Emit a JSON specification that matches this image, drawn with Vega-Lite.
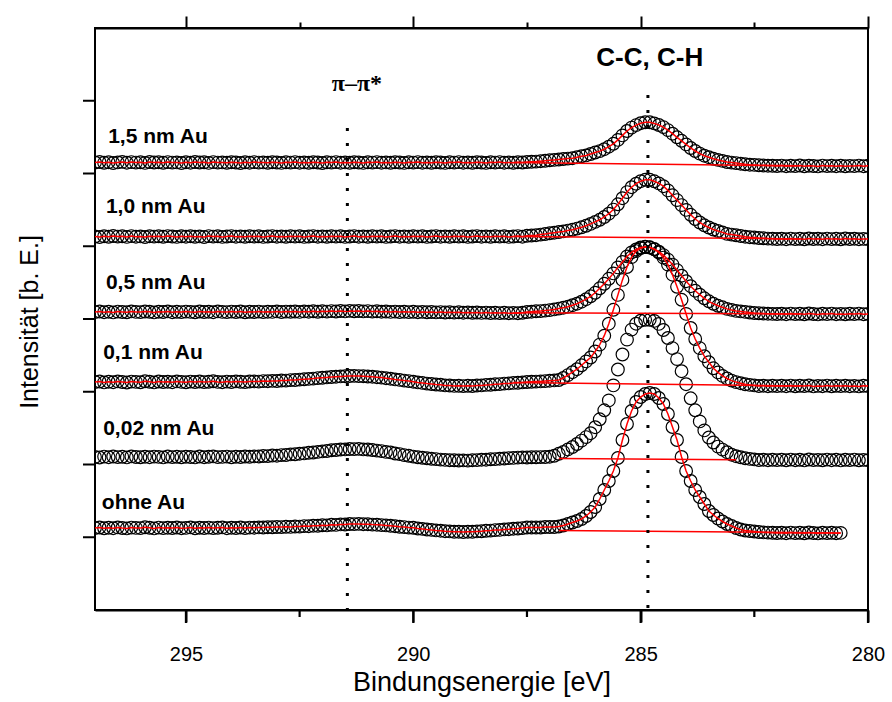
{
"$schema": "https://vega.github.io/schema/vega-lite/v6.json",
"width": 773, "height": 582,
"autosize": "none",
"padding": {"left": 95, "top": 28, "right": 24, "bottom": 92},
"background": "white",
"config": {"view": {"stroke": "black", "strokeWidth": 2}, "font": "Liberation Sans", "axis": {"grid": false}},
"resolve": {"axis": {"x": "independent"}},
"datasets": {
"spectra": [
{"e":297.0,"s15":447.5,"s10":373.5,"s05":298.0,"s01":228.0,"s002":153.0,"s0":82.0},
{"e":296.9,"s15":448.0,"s10":373.0,"s05":298.5,"s01":228.5,"s002":152.5,"s0":82.5},
{"e":296.8,"s15":447.2,"s10":373.8,"s05":297.8,"s01":227.6,"s002":153.4,"s0":81.7},
{"e":296.7,"s15":447.8,"s10":373.2,"s05":298.3,"s01":228.3,"s002":152.8,"s0":82.3},
{"e":296.6,"s15":447.0,"s10":374.0,"s05":297.6,"s01":227.8,"s002":153.5,"s0":81.8},
{"e":296.5,"s15":447.6,"s10":373.4,"s05":298.4,"s01":228.6,"s002":152.9,"s0":82.6},
{"e":296.4,"s15":448.1,"s10":373.7,"s05":298.0,"s01":228.0,"s002":153.2,"s0":82.0},
{"e":296.3,"s15":447.3,"s10":373.1,"s05":297.7,"s01":227.5,"s002":152.6,"s0":81.6},
{"e":296.2,"s15":447.9,"s10":373.9,"s05":298.6,"s01":228.4,"s002":153.6,"s0":82.4},
{"e":296.1,"s15":447.4,"s10":373.3,"s05":298.1,"s01":228.1,"s002":153.0,"s0":82.1},
{"e":296.0,"s15":447.7,"s10":373.6,"s05":297.9,"s01":227.7,"s002":152.7,"s0":81.9},
{"e":295.9,"s15":447.1,"s10":373.0,"s05":298.5,"s01":228.7,"s002":153.3,"s0":82.7},
{"e":295.8,"s15":448.0,"s10":373.8,"s05":298.2,"s01":228.2,"s002":152.8,"s0":82.2},
{"e":295.7,"s15":447.5,"s10":373.4,"s05":297.6,"s01":227.6,"s002":153.4,"s0":81.6},
{"e":295.6,"s15":447.8,"s10":373.7,"s05":298.3,"s01":228.5,"s002":153.1,"s0":82.4},
{"e":295.5,"s15":447.2,"s10":373.2,"s05":298.0,"s01":228.0,"s002":152.6,"s0":81.9},
{"e":295.4,"s15":447.9,"s10":373.9,"s05":298.6,"s01":228.3,"s002":153.5,"s0":82.3},
{"e":295.3,"s15":447.4,"s10":373.5,"s05":297.8,"s01":227.8,"s002":152.9,"s0":82.0},
{"e":295.2,"s15":447.6,"s10":373.1,"s05":298.2,"s01":228.6,"s002":153.2,"s0":82.5},
{"e":295.1,"s15":447.0,"s10":373.7,"s05":297.9,"s01":228.1,"s002":152.7,"s0":81.8},
{"e":295.0,"s15":447.8,"s10":373.3,"s05":298.4,"s01":227.7,"s002":153.3,"s0":82.1},
{"e":294.9,"s15":447.3,"s10":373.8,"s05":298.1,"s01":228.4,"s002":153.0,"s0":82.6},
{"e":294.8,"s15":448.0,"s10":373.2,"s05":297.7,"s01":228.0,"s002":152.6,"s0":81.7},
{"e":294.7,"s15":447.5,"s10":373.6,"s05":298.5,"s01":228.5,"s002":153.5,"s0":82.3},
{"e":294.6,"s15":447.7,"s10":373.0,"s05":298.0,"s01":227.9,"s002":152.8,"s0":82.0},
{"e":294.5,"s15":447.1,"s10":373.9,"s05":298.3,"s01":228.2,"s002":153.2,"s0":82.4},
{"e":294.4,"s15":447.9,"s10":373.4,"s05":297.8,"s01":228.7,"s002":153.6,"s0":81.9},
{"e":294.3,"s15":447.4,"s10":373.7,"s05":298.6,"s01":228.1,"s002":152.9,"s0":82.2},
{"e":294.2,"s15":447.6,"s10":373.1,"s05":298.1,"s01":227.8,"s002":153.1,"s0":82.6},
{"e":294.1,"s15":447.2,"s10":373.5,"s05":297.9,"s01":228.4,"s002":153.4,"s0":81.8},
{"e":294.0,"s15":447.8,"s10":373.9,"s05":298.4,"s01":228.0,"s002":152.7,"s0":82.3},
{"e":293.9,"s15":447.5,"s10":373.3,"s05":298.0,"s01":228.6,"s002":153.3,"s0":82.0},
{"e":293.8,"s15":447.0,"s10":373.6,"s05":298.5,"s01":228.2,"s002":153.0,"s0":82.5},
{"e":293.7,"s15":447.7,"s10":373.2,"s05":297.7,"s01":227.9,"s002":153.5,"s0":81.9},
{"e":293.6,"s15":447.3,"s10":373.8,"s05":298.2,"s01":228.5,"s002":153.2,"s0":82.4},
{"e":293.5,"s15":447.9,"s10":373.4,"s05":298.0,"s01":228.6,"s002":153.6,"s0":82.3},
{"e":293.4,"s15":447.4,"s10":373.7,"s05":298.4,"s01":228.4,"s002":153.5,"s0":82.6},
{"e":293.3,"s15":447.6,"s10":373.1,"s05":297.9,"s01":228.9,"s002":154.0,"s0":82.5},
{"e":293.2,"s15":447.2,"s10":373.5,"s05":298.3,"s01":228.8,"s002":153.9,"s0":82.8},
{"e":293.1,"s15":447.8,"s10":373.9,"s05":298.1,"s01":229.1,"s002":154.5,"s0":82.7},
{"e":293.0,"s15":447.5,"s10":373.3,"s05":298.6,"s01":229.0,"s002":154.3,"s0":83.0},
{"e":292.9,"s15":447.1,"s10":373.6,"s05":298.0,"s01":229.5,"s002":154.9,"s0":82.9},
{"e":292.8,"s15":447.7,"s10":373.2,"s05":298.4,"s01":229.4,"s002":155.0,"s0":83.2},
{"e":292.7,"s15":447.4,"s10":373.8,"s05":298.2,"s01":229.9,"s002":155.6,"s0":83.1},
{"e":292.6,"s15":447.9,"s10":373.4,"s05":298.5,"s01":230.0,"s002":155.7,"s0":83.5},
{"e":292.5,"s15":447.3,"s10":373.7,"s05":298.1,"s01":230.4,"s002":156.3,"s0":83.4},
{"e":292.4,"s15":447.6,"s10":373.1,"s05":298.6,"s01":230.7,"s002":156.6,"s0":83.9},
{"e":292.3,"s15":447.2,"s10":373.5,"s05":298.3,"s01":231.1,"s002":157.2,"s0":83.8},
{"e":292.2,"s15":447.8,"s10":373.9,"s05":298.7,"s01":231.4,"s002":157.5,"s0":84.3},
{"e":292.1,"s15":447.5,"s10":373.3,"s05":298.2,"s01":231.9,"s002":158.1,"s0":84.2},
{"e":292.0,"s15":447.0,"s10":373.6,"s05":298.8,"s01":232.2,"s002":158.6,"s0":84.7},
{"e":291.9,"s15":447.7,"s10":373.2,"s05":298.4,"s01":232.6,"s002":159.0,"s0":84.6},
{"e":291.8,"s15":447.4,"s10":373.8,"s05":298.9,"s01":233.0,"s002":159.7,"s0":85.2},
{"e":291.7,"s15":447.9,"s10":373.4,"s05":298.5,"s01":233.3,"s002":160.0,"s0":85.1},
{"e":291.6,"s15":447.3,"s10":373.7,"s05":299.0,"s01":233.6,"s002":160.5,"s0":85.6},
{"e":291.5,"s15":447.6,"s10":373.1,"s05":298.6,"s01":233.8,"s002":160.6,"s0":85.5},
{"e":291.4,"s15":447.2,"s10":373.5,"s05":299.1,"s01":234.0,"s002":161.0,"s0":86.0},
{"e":291.3,"s15":447.8,"s10":373.9,"s05":298.7,"s01":234.1,"s002":160.9,"s0":85.9},
{"e":291.2,"s15":447.5,"s10":373.3,"s05":299.0,"s01":233.9,"s002":161.1,"s0":86.1},
{"e":291.1,"s15":447.1,"s10":373.6,"s05":298.6,"s01":233.8,"s002":160.6,"s0":85.8},
{"e":291.0,"s15":447.7,"s10":373.2,"s05":298.9,"s01":233.5,"s002":160.5,"s0":85.8},
{"e":290.9,"s15":447.4,"s10":373.8,"s05":298.4,"s01":233.3,"s002":160.0,"s0":85.4},
{"e":290.8,"s15":447.9,"s10":373.4,"s05":298.7,"s01":232.8,"s002":159.4,"s0":85.3},
{"e":290.7,"s15":447.3,"s10":373.7,"s05":298.3,"s01":232.4,"s002":158.9,"s0":84.9},
{"e":290.6,"s15":447.6,"s10":373.1,"s05":298.5,"s01":231.8,"s002":158.1,"s0":84.6},
{"e":290.5,"s15":447.2,"s10":373.5,"s05":298.1,"s01":231.3,"s002":157.6,"s0":84.2},
{"e":290.4,"s15":447.8,"s10":373.9,"s05":298.4,"s01":230.6,"s002":156.5,"s0":83.8},
{"e":290.3,"s15":447.5,"s10":373.3,"s05":298.0,"s01":230.1,"s002":155.9,"s0":83.2},
{"e":290.2,"s15":447.1,"s10":373.6,"s05":298.3,"s01":229.4,"s002":154.9,"s0":82.9},
{"e":290.1,"s15":447.7,"s10":373.2,"s05":297.9,"s01":228.9,"s002":154.2,"s0":82.4},
{"e":290.0,"s15":447.4,"s10":373.8,"s05":298.2,"s01":228.3,"s002":153.4,"s0":82.2},
{"e":289.9,"s15":447.9,"s10":373.4,"s05":297.8,"s01":227.6,"s002":152.7,"s0":81.5},
{"e":289.8,"s15":447.3,"s10":373.7,"s05":298.1,"s01":227.1,"s002":152.2,"s0":81.1},
{"e":289.7,"s15":447.6,"s10":373.1,"s05":297.7,"s01":226.4,"s002":151.7,"s0":80.5},
{"e":289.6,"s15":447.2,"s10":373.5,"s05":298.0,"s01":226.0,"s002":151.2,"s0":80.1},
{"e":289.5,"s15":447.8,"s10":373.9,"s05":297.6,"s01":225.5,"s002":150.9,"s0":79.6},
{"e":289.4,"s15":447.5,"s10":373.3,"s05":297.9,"s01":225.2,"s002":150.4,"s0":79.3},
{"e":289.3,"s15":447.1,"s10":373.6,"s05":297.5,"s01":224.6,"s002":150.1,"s0":78.8},
{"e":289.2,"s15":447.7,"s10":373.2,"s05":297.8,"s01":224.5,"s002":149.8,"s0":78.6},
{"e":289.1,"s15":447.4,"s10":373.8,"s05":297.4,"s01":224.1,"s002":149.7,"s0":78.2},
{"e":289.0,"s15":447.9,"s10":373.4,"s05":297.7,"s01":224.2,"s002":149.5,"s0":78.3},
{"e":288.9,"s15":447.3,"s10":373.7,"s05":297.3,"s01":223.9,"s002":149.6,"s0":78.0},
{"e":288.8,"s15":447.6,"s10":373.1,"s05":297.6,"s01":224.2,"s002":149.4,"s0":78.3},
{"e":288.7,"s15":447.2,"s10":373.5,"s05":297.2,"s01":224.0,"s002":149.8,"s0":78.2},
{"e":288.6,"s15":447.8,"s10":373.9,"s05":297.5,"s01":224.5,"s002":149.9,"s0":78.6},
{"e":288.5,"s15":447.5,"s10":373.3,"s05":297.1,"s01":224.6,"s002":150.3,"s0":78.7},
{"e":288.4,"s15":447.1,"s10":373.6,"s05":297.4,"s01":225.1,"s002":150.3,"s0":79.2},
{"e":288.3,"s15":447.7,"s10":373.2,"s05":297.0,"s01":225.2,"s002":150.7,"s0":79.4},
{"e":288.2,"s15":447.4,"s10":373.8,"s05":297.3,"s01":225.7,"s002":150.9,"s0":79.9},
{"e":288.1,"s15":447.9,"s10":373.4,"s05":296.9,"s01":225.9,"s002":151.3,"s0":80.1},
{"e":288.0,"s15":447.3,"s10":373.7,"s05":297.2,"s01":226.4,"s002":151.5,"s0":80.6},
{"e":287.9,"s15":447.6,"s10":373.1,"s05":296.8,"s01":226.6,"s002":151.9,"s0":80.8},
{"e":287.8,"s15":447.2,"s10":373.5,"s05":297.1,"s01":227.1,"s002":152.1,"s0":81.3},
{"e":287.7,"s15":447.8,"s10":373.9,"s05":296.8,"s01":227.2,"s002":152.4,"s0":81.5},
{"e":287.6,"s15":447.5,"s10":373.3,"s05":297.2,"s01":227.6,"s002":152.6,"s0":81.9},
{"e":287.5,"s15":448.0,"s10":374.2,"s05":298.0,"s01":228.0,"s002":152.5,"s0":82.5},
{"e":287.4,"s15":448.2,"s10":374.5,"s05":298.3,"s01":228.2,"s002":152.7,"s0":82.5},
{"e":287.3,"s15":448.4,"s10":374.8,"s05":298.7,"s01":228.4,"s002":152.7,"s0":82.5},
{"e":287.2,"s15":448.8,"s10":375.4,"s05":298.9,"s01":228.6,"s002":152.9,"s0":82.5},
{"e":287.1,"s15":449.2,"s10":376.0,"s05":299.4,"s01":228.9,"s002":153.0,"s0":83.0},
{"e":287.0,"s15":449.7,"s10":376.7,"s05":299.9,"s01":229.3,"s002":153.3,"s0":83.0},
{"e":286.9,"s15":450.1,"s10":377.3,"s05":300.6,"s01":229.6,"s002":154.2,"s0":83.0},
{"e":286.8,"s15":450.5,"s10":378.0,"s05":301.4,"s01":230.0,"s002":156.2,"s0":83.5},
{"e":286.7,"s15":451.0,"s10":378.6,"s05":302.3,"s01":232.0,"s002":158.1,"s0":84.5},
{"e":286.6,"s15":451.4,"s10":379.4,"s05":303.3,"s01":234.9,"s002":160.6,"s0":86.0},
{"e":286.5,"s15":451.8,"s10":380.2,"s05":304.8,"s01":237.8,"s002":163.0,"s0":87.5},
{"e":286.4,"s15":452.8,"s10":381.4,"s05":306.3,"s01":240.8,"s002":166.0,"s0":89.0},
{"e":286.3,"s15":453.7,"s10":382.7,"s05":308.3,"s01":244.7,"s002":169.4,"s0":91.0},
{"e":286.2,"s15":454.6,"s10":384.2,"s05":310.8,"s01":248.6,"s002":172.9,"s0":94.0},
{"e":286.1,"s15":456.0,"s10":386.1,"s05":313.7,"s01":252.5,"s002":176.8,"s0":98.0},
{"e":286.0,"s15":457.5,"s10":388.1,"s05":317.2,"s01":258.5,"s002":182.8,"s0":103.0},
{"e":285.9,"s15":458.9,"s10":390.2,"s05":321.7,"s01":265.4,"s002":190.7,"s0":111.0},
{"e":285.8,"s15":460.8,"s10":393.0,"s05":326.2,"s01":274.3,"s002":199.7,"s0":120.0},
{"e":285.7,"s15":463.3,"s10":396.3,"s05":331.2,"s01":286.3,"s002":209.6,"s0":129.0},
{"e":285.6,"s15":466.2,"s10":400.4,"s05":336.6,"s01":300.2,"s002":224.6,"s0":139.0},
{"e":285.5,"s15":470.1,"s10":405.7,"s05":342.6,"s01":315.1,"s002":240.5,"s0":152.0},
{"e":285.4,"s15":474.6,"s10":411.8,"s05":348.1,"s01":330.1,"s002":255.5,"s0":170.0},
{"e":285.3,"s15":479.0,"s10":417.9,"s05":353.6,"s01":343.0,"s002":270.4,"s0":186.0},
{"e":285.2,"s15":482.4,"s10":422.8,"s05":357.6,"s01":352.9,"s002":280.4,"s0":199.0},
{"e":285.1,"s15":484.9,"s10":426.3,"s05":360.5,"s01":358.9,"s002":286.3,"s0":208.0},
{"e":285.0,"s15":486.8,"s10":428.8,"s05":362.5,"s01":361.8,"s002":289.3,"s0":213.0},
{"e":284.9,"s15":487.7,"s10":430.2,"s05":363.0,"s01":363.2,"s002":290.2,"s0":216.0},
{"e":284.8,"s15":487.7,"s10":430.2,"s05":362.5,"s01":362.7,"s002":290.2,"s0":217.0},
{"e":284.7,"s15":486.6,"s10":428.7,"s05":361.0,"s01":360.6,"s002":289.1,"s0":216.0},
{"e":284.6,"s15":485.0,"s10":426.6,"s05":358.4,"s01":357.5,"s002":286.1,"s0":212.0},
{"e":284.5,"s15":482.9,"s10":423.8,"s05":354.9,"s01":352.4,"s002":280.0,"s0":206.0},
{"e":284.4,"s15":479.9,"s10":419.6,"s05":350.4,"s01":345.4,"s002":272.0,"s0":196.0},
{"e":284.3,"s15":476.3,"s10":414.7,"s05":345.4,"s01":335.3,"s002":261.9,"s0":183.0},
{"e":284.2,"s15":472.7,"s10":409.9,"s05":339.9,"s01":323.2,"s002":250.9,"s0":170.0},
{"e":284.1,"s15":469.2,"s10":404.9,"s05":334.3,"s01":310.2,"s002":238.8,"s0":153.0},
{"e":284.0,"s15":465.6,"s10":400.1,"s05":328.8,"s01":296.1,"s002":225.8,"s0":139.0},
{"e":283.9,"s15":462.0,"s10":395.2,"s05":323.8,"s01":282.0,"s002":211.7,"s0":129.0},
{"e":283.8,"s15":459.0,"s10":391.0,"s05":319.3,"s01":271.0,"s002":199.7,"s0":120.0},
{"e":283.7,"s15":456.4,"s10":387.5,"s05":315.3,"s01":261.9,"s002":188.6,"s0":113.0},
{"e":283.6,"s15":454.3,"s10":384.7,"s05":311.7,"s01":253.8,"s002":179.6,"s0":106.0},
{"e":283.5,"s15":452.8,"s10":382.5,"s05":308.7,"s01":247.8,"s002":172.5,"s0":99.0},
{"e":283.4,"s15":451.2,"s10":380.5,"s05":306.2,"s01":241.7,"s002":167.5,"s0":95.0},
{"e":283.3,"s15":450.1,"s10":379.0,"s05":304.2,"s01":237.6,"s002":163.4,"s0":91.5},
{"e":283.2,"s15":449.1,"s10":377.6,"s05":302.7,"s01":234.1,"s002":160.4,"s0":88.5},
{"e":283.1,"s15":448.0,"s10":376.1,"s05":301.1,"s01":231.5,"s002":157.8,"s0":86.0},
{"e":283.0,"s15":447.4,"s10":375.4,"s05":300.1,"s01":229.4,"s002":155.3,"s0":84.0},
{"e":282.9,"s15":446.9,"s10":374.7,"s05":299.1,"s01":227.9,"s002":153.8,"s0":82.0},
{"e":282.8,"s15":446.3,"s10":374.0,"s05":298.6,"s01":226.8,"s002":152.7,"s0":80.5},
{"e":282.7,"s15":445.7,"s10":373.3,"s05":298.1,"s01":225.7,"s002":151.7,"s0":79.5},
{"e":282.6,"s15":445.3,"s10":372.8,"s05":297.5,"s01":225.1,"s002":151.1,"s0":79.0},
{"e":282.5,"s15":445.1,"s10":372.5,"s05":297.0,"s01":224.6,"s002":150.6,"s0":78.5},
{"e":282.4,"s15":444.7,"s10":372.0,"s05":296.7,"s01":224.0,"s002":150.0,"s0":78.0},
{"e":282.3,"s15":444.5,"s10":371.7,"s05":296.5,"s01":224.3,"s002":150.3,"s0":77.6},
{"e":282.2,"s15":444.3,"s10":371.4,"s05":296.3,"s01":223.8,"s002":149.8,"s0":77.4},
{"e":282.1,"s15":444.2,"s10":371.3,"s05":296.1,"s01":224.2,"s002":150.2,"s0":77.2},
{"e":282.0,"s15":444.0,"s10":371.0,"s05":296.0,"s01":223.9,"s002":149.9,"s0":77.0},
{"e":281.9,"s15":444.4,"s10":371.3,"s05":296.3,"s01":224.3,"s002":150.3,"s0":77.3},
{"e":281.8,"s15":443.8,"s10":370.8,"s05":295.8,"s01":223.8,"s002":149.7,"s0":76.8},
{"e":281.7,"s15":444.2,"s10":371.4,"s05":296.4,"s01":224.4,"s002":150.4,"s0":77.4},
{"e":281.6,"s15":443.9,"s10":370.9,"s05":295.9,"s01":223.7,"s002":149.8,"s0":76.9},
{"e":281.5,"s15":444.5,"s10":371.2,"s05":296.2,"s01":224.2,"s002":150.2,"s0":77.2},
{"e":281.4,"s15":443.7,"s10":370.7,"s05":295.7,"s01":223.9,"s002":149.6,"s0":76.7},
{"e":281.3,"s15":444.3,"s10":371.5,"s05":296.5,"s01":224.5,"s002":150.5,"s0":77.5},
{"e":281.2,"s15":444.0,"s10":371.0,"s05":296.0,"s01":223.6,"s002":149.9,"s0":77.0},
{"e":281.1,"s15":443.6,"s10":371.3,"s05":295.6,"s01":224.1,"s002":150.1,"s0":76.6},
{"e":281.0,"s15":444.4,"s10":370.8,"s05":296.3,"s01":223.8,"s002":149.7,"s0":77.3},
{"e":280.9,"s15":443.9,"s10":371.4,"s05":295.9,"s01":224.4,"s002":150.4,"s0":76.9},
{"e":280.8,"s15":444.2,"s10":370.9,"s05":296.4,"s01":223.7,"s002":149.8,"s0":77.2},
{"e":280.7,"s15":443.8,"s10":371.2,"s05":295.8,"s01":224.2,"s002":150.3,"s0":76.8},
{"e":280.6,"s15":444.3,"s10":370.7,"s05":296.1,"s01":223.9,"s002":149.6,"s0":77.1},
{"e":280.5,"s15":443.7,"s10":371.5,"s05":295.7,"s01":224.3,"s002":150.2,"s0":null},
{"e":280.4,"s15":444.1,"s10":371.0,"s05":296.2,"s01":223.8,"s002":149.9,"s0":null},
{"e":280.3,"s15":443.9,"s10":371.3,"s05":295.9,"s01":224.1,"s002":150.4,"s0":null},
{"e":280.2,"s15":444.4,"s10":370.8,"s05":296.4,"s01":223.6,"s002":149.7,"s0":null},
{"e":280.1,"s15":443.8,"s10":371.1,"s05":295.8,"s01":224.2,"s002":150.1,"s0":null},
{"e":280.0,"s15":444.2,"s10":370.9,"s05":296.1,"s01":223.9,"s002":149.8,"s0":null}
],
"baselines": [
{"series":"s15","e":287.8,"v":447.5},{"series":"s15","e":281.5,"v":444.2},
{"series":"s10","e":287.8,"v":373.5},{"series":"s10","e":281.5,"v":371.1},
{"series":"s05","e":287.8,"v":297.3},{"series":"s05","e":281.5,"v":296.0},
{"series":"s01","e":287.8,"v":227.5},{"series":"s01","e":281.5,"v":224.0},
{"series":"s002","e":286.8,"v":151.5},{"series":"s002","e":282.9,"v":150.2},
{"series":"s0","e":286.8,"v":79.5},{"series":"s0","e":280.6,"v":77.0}
],
"markers": [
{"e":291.45,"top":482,"bottom":0},
{"e":284.84,"top":515,"bottom":0}
],
"xticks": [
{"e":295,"v":-13,"v2":0},{"e":290,"v":-13,"v2":0},{"e":285,"v":-13,"v2":0},{"e":280,"v":-13,"v2":0},
{"e":292.5,"v":-7,"v2":0},{"e":287.5,"v":-7,"v2":0},{"e":282.5,"v":-7,"v2":0}
],
"yticks": [
{"e":297,"e2":297.264,"v":72.75},{"e":297,"e2":297.264,"v":145.5},{"e":297,"e2":297.264,"v":218.25},
{"e":297,"e2":297.264,"v":291},{"e":297,"e2":297.264,"v":363.75},{"e":297,"e2":297.264,"v":436.5},
{"e":297,"e2":297.264,"v":509.25}
],
"labels": [
{"label":"1,5 nm Au","e":296.71,"v":473},
{"label":"1,0 nm Au","e":296.76,"v":403},
{"label":"0,5 nm Au","e":296.76,"v":327},
{"label":"0,1 nm Au","e":296.82,"v":257},
{"label":"0,02 nm Au","e":296.82,"v":181},
{"label":"ohne Au","e":296.85,"v":107}
]
},
"layer": [
{
"data": {"name": "spectra"},
"transform": [{"fold": ["s15","s10","s05","s01","s002","s0"], "as": ["series","intensity"]}, {"filter": "datum.intensity != null"}],
"mark": {"type": "point", "shape": "circle", "filled": false, "stroke": "black", "strokeWidth": 1.2, "size": 160, "opacity": 1, "clip": true},
"encoding": {
"x": {"field": "e", "type": "quantitative", "scale": {"domain": [280, 297], "reverse": true, "nice": false, "zero": false}, "axis": null},
"y": {"field": "intensity", "type": "quantitative", "scale": {"domain": [0, 582], "nice": false, "zero": false}, "axis": null},
"detail": {"field": "series"}
}
},
{
"data": {"name": "spectra"},
"transform": [{"fold": ["s15","s10","s05","s01","s002","s0"], "as": ["series","intensity"]}, {"filter": "datum.intensity != null && datum.series != 's002'"}],
"mark": {"type": "line", "color": "#ff0000", "strokeWidth": 1.5, "clip": true},
"encoding": {
"x": {"field": "e", "type": "quantitative", "axis": null},
"y": {"field": "intensity", "type": "quantitative", "axis": null},
"detail": {"field": "series"}
}
},
{
"data": {"name": "baselines"},
"mark": {"type": "line", "color": "#ff0000", "strokeWidth": 1.5},
"encoding": {
"x": {"field": "e", "type": "quantitative",
"axis": {"orient": "top", "values": [295, 290, 285, 280], "labels": false, "domain": true, "domainColor": "black", "domainWidth": 2, "tickSize": 12, "tickWidth": 2, "tickColor": "black", "grid": false, "title": null}},
"y": {"field": "v", "type": "quantitative", "axis": null},
"detail": {"field": "series"}
}
},
{
"data": {"name": "markers"},
"mark": {"type": "rule", "color": "black", "strokeWidth": 3, "strokeDash": [3, 12], "strokeCap": "butt"},
"encoding": {
"x": {"field": "e", "type": "quantitative",
"axis": {"orient": "bottom", "values": [295, 290, 285, 280], "format": "d", "ticks": true, "tickSize": 12, "tickWidth": 2, "tickColor": "black", "domain": true, "domainColor": "black", "domainWidth": 2, "labelFont": "Liberation Sans", "labelFontSize": 20, "labelColor": "black", "labelPadding": 22, "labelFlush": false, "grid": false, "title": "Bindungsenergie [eV]", "titleFont": "Liberation Sans", "titleFontSize": 27, "titleFontWeight": "normal", "titleColor": "black", "titlePadding": 5}},
"y": {"field": "top", "type": "quantitative", "axis": null},
"y2": {"field": "bottom"}
}
},
{
"data": {"name": "xticks"},
"mark": {"type": "rule", "color": "black", "strokeWidth": 2.2},
"encoding": {
"x": {"field": "e", "type": "quantitative", "axis": null},
"y": {"field": "v", "type": "quantitative", "axis": null},
"y2": {"field": "v2"}
}
},
{
"data": {"name": "yticks"},
"mark": {"type": "rule", "color": "black", "strokeWidth": 2},
"encoding": {
"x": {"field": "e", "type": "quantitative", "axis": null},
"x2": {"field": "e2"},
"y": {"field": "v", "type": "quantitative", "axis": null}
}
},
{
"data": {"values": [{"label": "Intensität [b. E.]", "e": 298.43, "v": 288}]},
"mark": {"type": "text", "align": "center", "baseline": "middle", "angle": 270, "font": "Liberation Sans", "fontSize": 25, "color": "black"},
"encoding": {
"x": {"field": "e", "type": "quantitative", "axis": null},
"y": {"field": "v", "type": "quantitative", "axis": null},
"text": {"field": "label"}
}
},
{
"data": {"name": "labels"},
"mark": {"type": "text", "align": "left", "baseline": "middle", "font": "Liberation Sans", "fontWeight": "bold", "fontSize": 21, "color": "black"},
"encoding": {
"x": {"field": "e", "type": "quantitative",
"axis": {"orient": "top", "values": [292.5, 287.5, 282.5], "labels": false, "domain": false, "tickSize": 6, "tickWidth": 2, "tickColor": "black", "grid": false, "title": null}},
"y": {"field": "v", "type": "quantitative", "axis": null},
"text": {"field": "label"}
}
},
{
"data": {"values": [{"label": "C-C, C-H", "e": 284.8, "v": 552}]},
"mark": {"type": "text", "align": "center", "baseline": "middle", "font": "Liberation Sans", "fontWeight": "bold", "fontSize": 26, "color": "black"},
"encoding": {
"x": {"field": "e", "type": "quantitative", "axis": null},
"y": {"field": "v", "type": "quantitative", "axis": null},
"text": {"field": "label"}
}
},
{
"data": {"values": [{"label": "π–π*", "e": 291.24, "v": 526}]},
"mark": {"type": "text", "align": "center", "baseline": "middle", "font": "Liberation Serif", "fontWeight": "bold", "fontSize": 24, "color": "black"},
"encoding": {
"x": {"field": "e", "type": "quantitative", "axis": null},
"y": {"field": "v", "type": "quantitative", "axis": null},
"text": {"field": "label"}
}
}
]
}
